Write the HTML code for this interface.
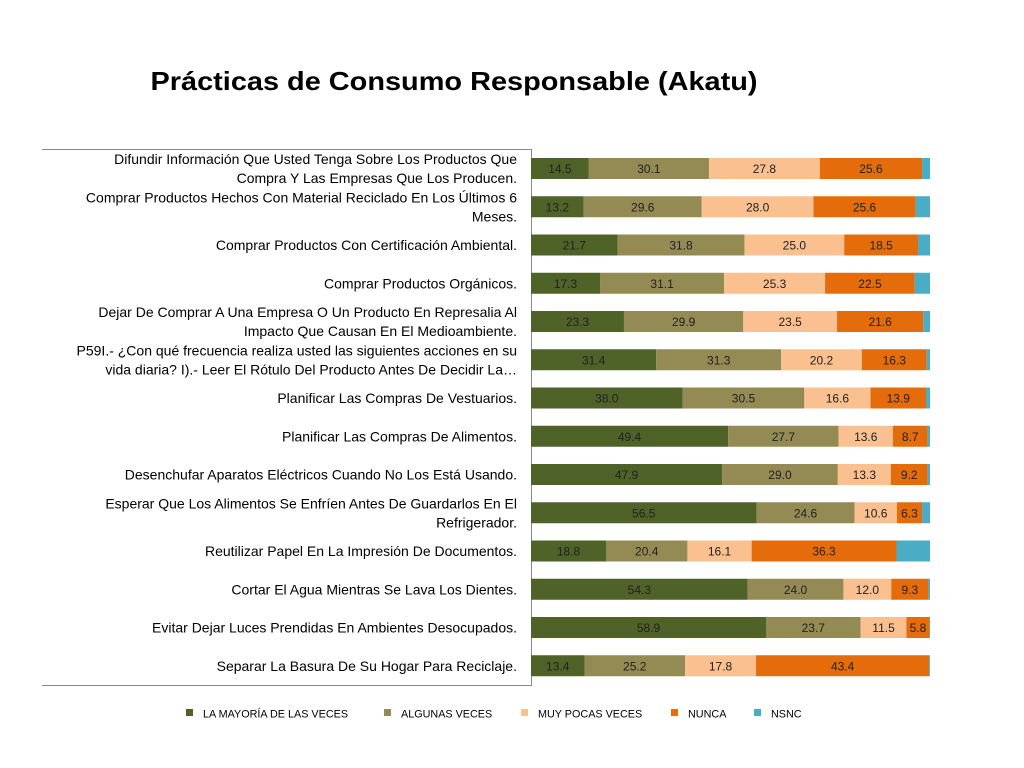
<!DOCTYPE html>
<html><head><meta charset="utf-8"><style>
body{margin:0;background:#fff;}
svg{display:block;font-family:"Liberation Sans",sans-serif;}
</style></head><body>
<svg id="chart" width="1024" height="768">
<text x="454" y="90" text-anchor="middle" font-size="26" font-weight="bold" fill="#000" textLength="607" lengthAdjust="spacingAndGlyphs">Prácticas de Consumo Responsable (Akatu)</text>
<line x1="42" y1="149.5" x2="531" y2="149.5" stroke="#888"/>
<line x1="42" y1="685.5" x2="531" y2="685.5" stroke="#888"/>
<line x1="531.5" y1="149" x2="531.5" y2="686" stroke="#888"/>
<g id="bars"></g>
<g id="labels"></g>
<g id="legend"></g>
</svg>
<script>
const categories=[
["Difundir Información Que Usted Tenga Sobre Los Productos Que","Compra Y Las Empresas Que Los Producen."],
["Comprar Productos Hechos Con Material Reciclado En Los Últimos 6","Meses."],
["Comprar Productos Con Certificación Ambiental."],
["Comprar  Productos Orgánicos."],
["Dejar De Comprar A Una Empresa O Un Producto En Represalia Al","Impacto Que Causan En El Medioambiente."],
["P59I.- ¿Con qué frecuencia realiza usted las siguientes acciones en su","vida diaria?  I).- Leer El Rótulo Del Producto Antes De Decidir La…"],
["Planificar Las Compras De Vestuarios."],
["Planificar Las Compras De Alimentos."],
["Desenchufar Aparatos Eléctricos Cuando No Los Está Usando."],
["Esperar Que Los Alimentos Se Enfríen Antes De Guardarlos En El","Refrigerador."],
["Reutilizar Papel En La Impresión De Documentos."],
["Cortar El Agua Mientras Se Lava Los Dientes."],
["Evitar Dejar Luces Prendidas En Ambientes Desocupados."],
["Separar La Basura De Su Hogar Para Reciclaje."]];
const seriesNames=["LA MAYORÍA DE LAS VECES","ALGUNAS VECES","MUY POCAS VECES","NUNCA","NSNC"];
const mayoria=[14.5,13.2,21.7,17.3,23.3,31.4,38.0,49.4,47.9,56.5,18.8,54.3,58.9,13.4];
const algunas=[30.1,29.6,31.8,31.1,29.9,31.3,30.5,27.7,29.0,24.6,20.4,24.0,23.7,25.2];
const pocas=[27.8,28.0,25.0,25.3,23.5,20.2,16.6,13.6,13.3,10.6,16.1,12.0,11.5,17.8];
const nunca=[25.6,25.6,18.5,22.5,21.6,16.3,13.9,8.7,9.2,6.3,36.3,9.3,5.8,43.4];
const nsnc=[2.0,3.6,3.0,3.8,1.7,0.8,1.0,0.6,0.6,2.0,8.4,0.4,0.1,0.2];
const series=[mayoria,algunas,pocas,nunca,nsnc];
const colors=["#4f6228","#948a54","#fac090","#e46c0a","#4bacc6"];
const NS="http://www.w3.org/2000/svg";
const x0=531,pxPer=3.99,y0=168.5,step=38.25,bh=21;
const xScale=v=>x0+v*pxPer;
const yScale=i=>y0+i*step;
const bars=document.getElementById('bars'),labels=document.getElementById('labels'),legend=document.getElementById('legend');
function mk(t,a){const e=document.createElementNS(NS,t);for(const k in a)e.setAttribute(k,a[k]);return e;}
categories.forEach((lines,i)=>{
  let cum=0;
  series.forEach((s,j)=>{
    const v=s[i];
    const r=mk('rect',{x:xScale(cum),y:yScale(i)-bh/2,width:v*pxPer,height:bh,fill:colors[j]});
    
    
    bars.appendChild(r);
    if(j<4){
      const t=mk('text',{x:xScale(cum+v/2),y:yScale(i)+4.5,'text-anchor':'middle','font-size':12,fill:'#222'});
      t.textContent=v.toFixed(1);
      
      
      bars.appendChild(t);
    }
    cum+=v;
  });
  const n=lines.length;
  lines.forEach((ln,k)=>{
    const t=mk('text',{x:517,y:yScale(i)+5+(k-(n-1)/2)*19,'text-anchor':'end','font-size':14,fill:'#000'});
    t.textContent=ln;
    
    
    labels.appendChild(t);
  });
});
const legX=[186,384,521,671,754];
seriesNames.forEach((nm,j)=>{
  const r=mk('rect',{x:legX[j],y:709,width:7,height:7,fill:colors[j]});
  
  
  legend.appendChild(r);
  const t=mk('text',{x:legX[j]+17,y:717.5,'font-size':10.8,fill:'#000'});
  t.textContent=nm;
  
  
  legend.appendChild(t);
});
</script>
</body></html>
